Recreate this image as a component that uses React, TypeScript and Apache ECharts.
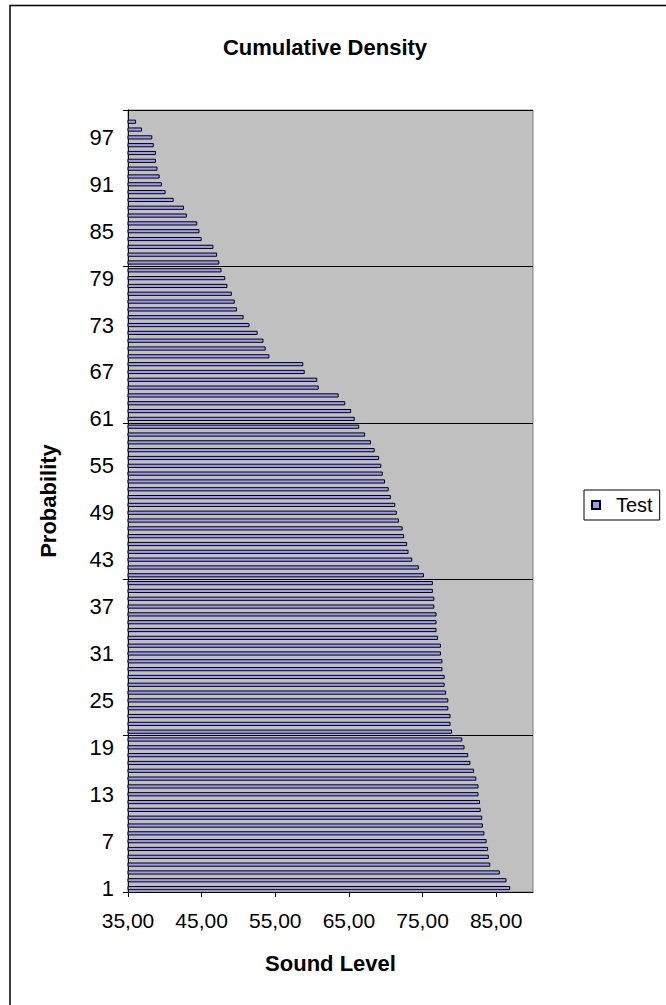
import React, { useEffect, useRef } from "react";
import * as echarts from "echarts";

const probability = [
  "1", "2", "3", "4", "5", "6", "7", "8", "9", "10",
  "11", "12", "13", "14", "15", "16", "17", "18", "19", "20",
  "21", "22", "23", "24", "25", "26", "27", "28", "29", "30",
  "31", "32", "33", "34", "35", "36", "37", "38", "39", "40",
  "41", "42", "43", "44", "45", "46", "47", "48", "49", "50",
  "51", "52", "53", "54", "55", "56", "57", "58", "59", "60",
  "61", "62", "63", "64", "65", "66", "67", "68", "69", "70",
  "71", "72", "73", "74", "75", "76", "77", "78", "79", "80",
  "81", "82", "83", "84", "85", "86", "87", "88", "89", "90",
  "91", "92", "93", "94", "95", "96", "97", "98", "99", "100",
];

const testLevels = [
  86.9, 86.4, 85.5, 84.2, 84.0, 83.9, 83.7, 83.4, 83.2, 83.1,
  82.9, 82.8, 82.6, 82.6, 82.3, 82.0, 81.5, 81.2, 80.7, 80.4,
  79.0, 78.8, 78.8, 78.5, 78.5, 78.2, 78.0, 78.0, 77.7, 77.7,
  77.5, 77.5, 77.1, 76.9, 76.9, 76.9, 76.6, 76.6, 76.4, 76.4,
  75.2, 74.5, 73.6, 73.1, 72.9, 72.5, 72.3, 71.8, 71.5, 71.3,
  70.7, 70.4, 69.9, 69.6, 69.4, 69.1, 68.5, 68.0, 67.2, 66.4,
  65.8, 65.3, 64.5, 63.6, 60.9, 60.7, 59.0, 58.8, 54.2, 53.7,
  53.4, 52.6, 51.5, 50.7, 49.8, 49.5, 49.1, 48.5, 48.2, 47.7,
  47.4, 47.1, 46.6, 45.0, 44.7, 44.4, 43.0, 42.6, 41.2, 40.1,
  39.6, 39.3, 39.0, 38.8, 38.8, 38.5, 38.3, 36.9, 36.1, 35.0,
];

const FONT = '"Liberation Sans", Arial, sans-serif';

export default function App() {
  const ref = useRef<HTMLDivElement>(null);
  useEffect(() => {
    if (!ref.current) return;
    const chart = echarts.init(ref.current, null, { renderer: "svg" });
    const every20 = (i: number) => i % 20 === 0 && i > 0 && i < 100;
    chart.setOption({
      animation: false,
      backgroundColor: "#ffffff",
      textStyle: { fontFamily: FONT },
      graphic: [
        {
          type: "rect",
          shape: { x: 10, y: 5.5, width: 800, height: 1200 },
          style: { fill: "none", stroke: "#000", lineWidth: 1.5 },
          silent: true,
          z: 100,
        },
        {
          type: "text",
          x: 325,
          y: 47,
          style: {
            text: "Cumulative Density",
            fontFamily: FONT,
            fontSize: 22,
            fontWeight: "bold",
            fill: "#000",
            textAlign: "center",
            textVerticalAlign: "middle",
          },
        },
      ],
      legend: {
        data: ["Test"],
        left: 584,
        top: 490,
        orient: "vertical",
        borderColor: "#000",
        borderWidth: 1,
        borderRadius: 0,
        padding: [5, 7, 5, 7],
        itemWidth: 8,
        itemHeight: 8,
        icon: "rect",
        textStyle: { fontSize: 20, color: "#000", fontFamily: FONT, padding: [0, 0, 0, 11] },
      },
      grid: {
        left: 128,
        right: 133,
        top: 110,
        bottom: 113,
        show: true,
        backgroundColor: "#C0C0C0",
        borderColor: "#808080",
        borderWidth: 1,
      },
      xAxis: {
        type: "value",
        min: 35,
        max: 90,
        interval: 10,
        name: "Sound Level",
        nameLocation: "middle",
        nameGap: 60,
        nameTextStyle: { fontSize: 22, fontWeight: "bold", color: "#000", fontFamily: FONT },
        axisLine: { show: true, lineStyle: { color: "#000", width: 1 } },
        axisTick: { show: true, length: 5, lineStyle: { color: "#000" } },
        axisLabel: {
          fontSize: 21,
          color: "#000",
          margin: 18,
          showMaxLabel: false,
          fontFamily: FONT,
          formatter: (v: number) => v.toFixed(2).replace(".", ","),
        },
        splitLine: { show: false },
      },
      yAxis: {
        type: "category",
        data: probability,
        name: "Probability",
        nameLocation: "middle",
        nameGap: 69,
        nameRotate: 90,
        nameTextStyle: { fontSize: 22, fontWeight: "bold", color: "#000", fontFamily: FONT },
        axisLine: { show: true, lineStyle: { color: "#000", width: 1 } },
        axisTick: { show: true, length: 5, interval: (i: number) => i % 20 === 0, lineStyle: { color: "#000" } },
        axisLabel: { interval: 5, fontSize: 22, color: "#000", margin: 14, fontFamily: FONT },
        splitLine: { show: true, interval: every20, lineStyle: { color: "#000", width: 1 } },
      },
      series: [
        {
          name: "Test",
          type: "bar",
          data: testLevels,
          barWidth: 4.2,
          clip: true,
          itemStyle: { color: "#9999FF", borderColor: "#000", borderWidth: 1 },
        },
      ],
    });
    return () => chart.dispose();
  }, []);
  return (
    <div
      ref={ref}
      style={{ position: "fixed", left: 0, top: 0, width: 666, height: 1005 }}
    />
  );
}
